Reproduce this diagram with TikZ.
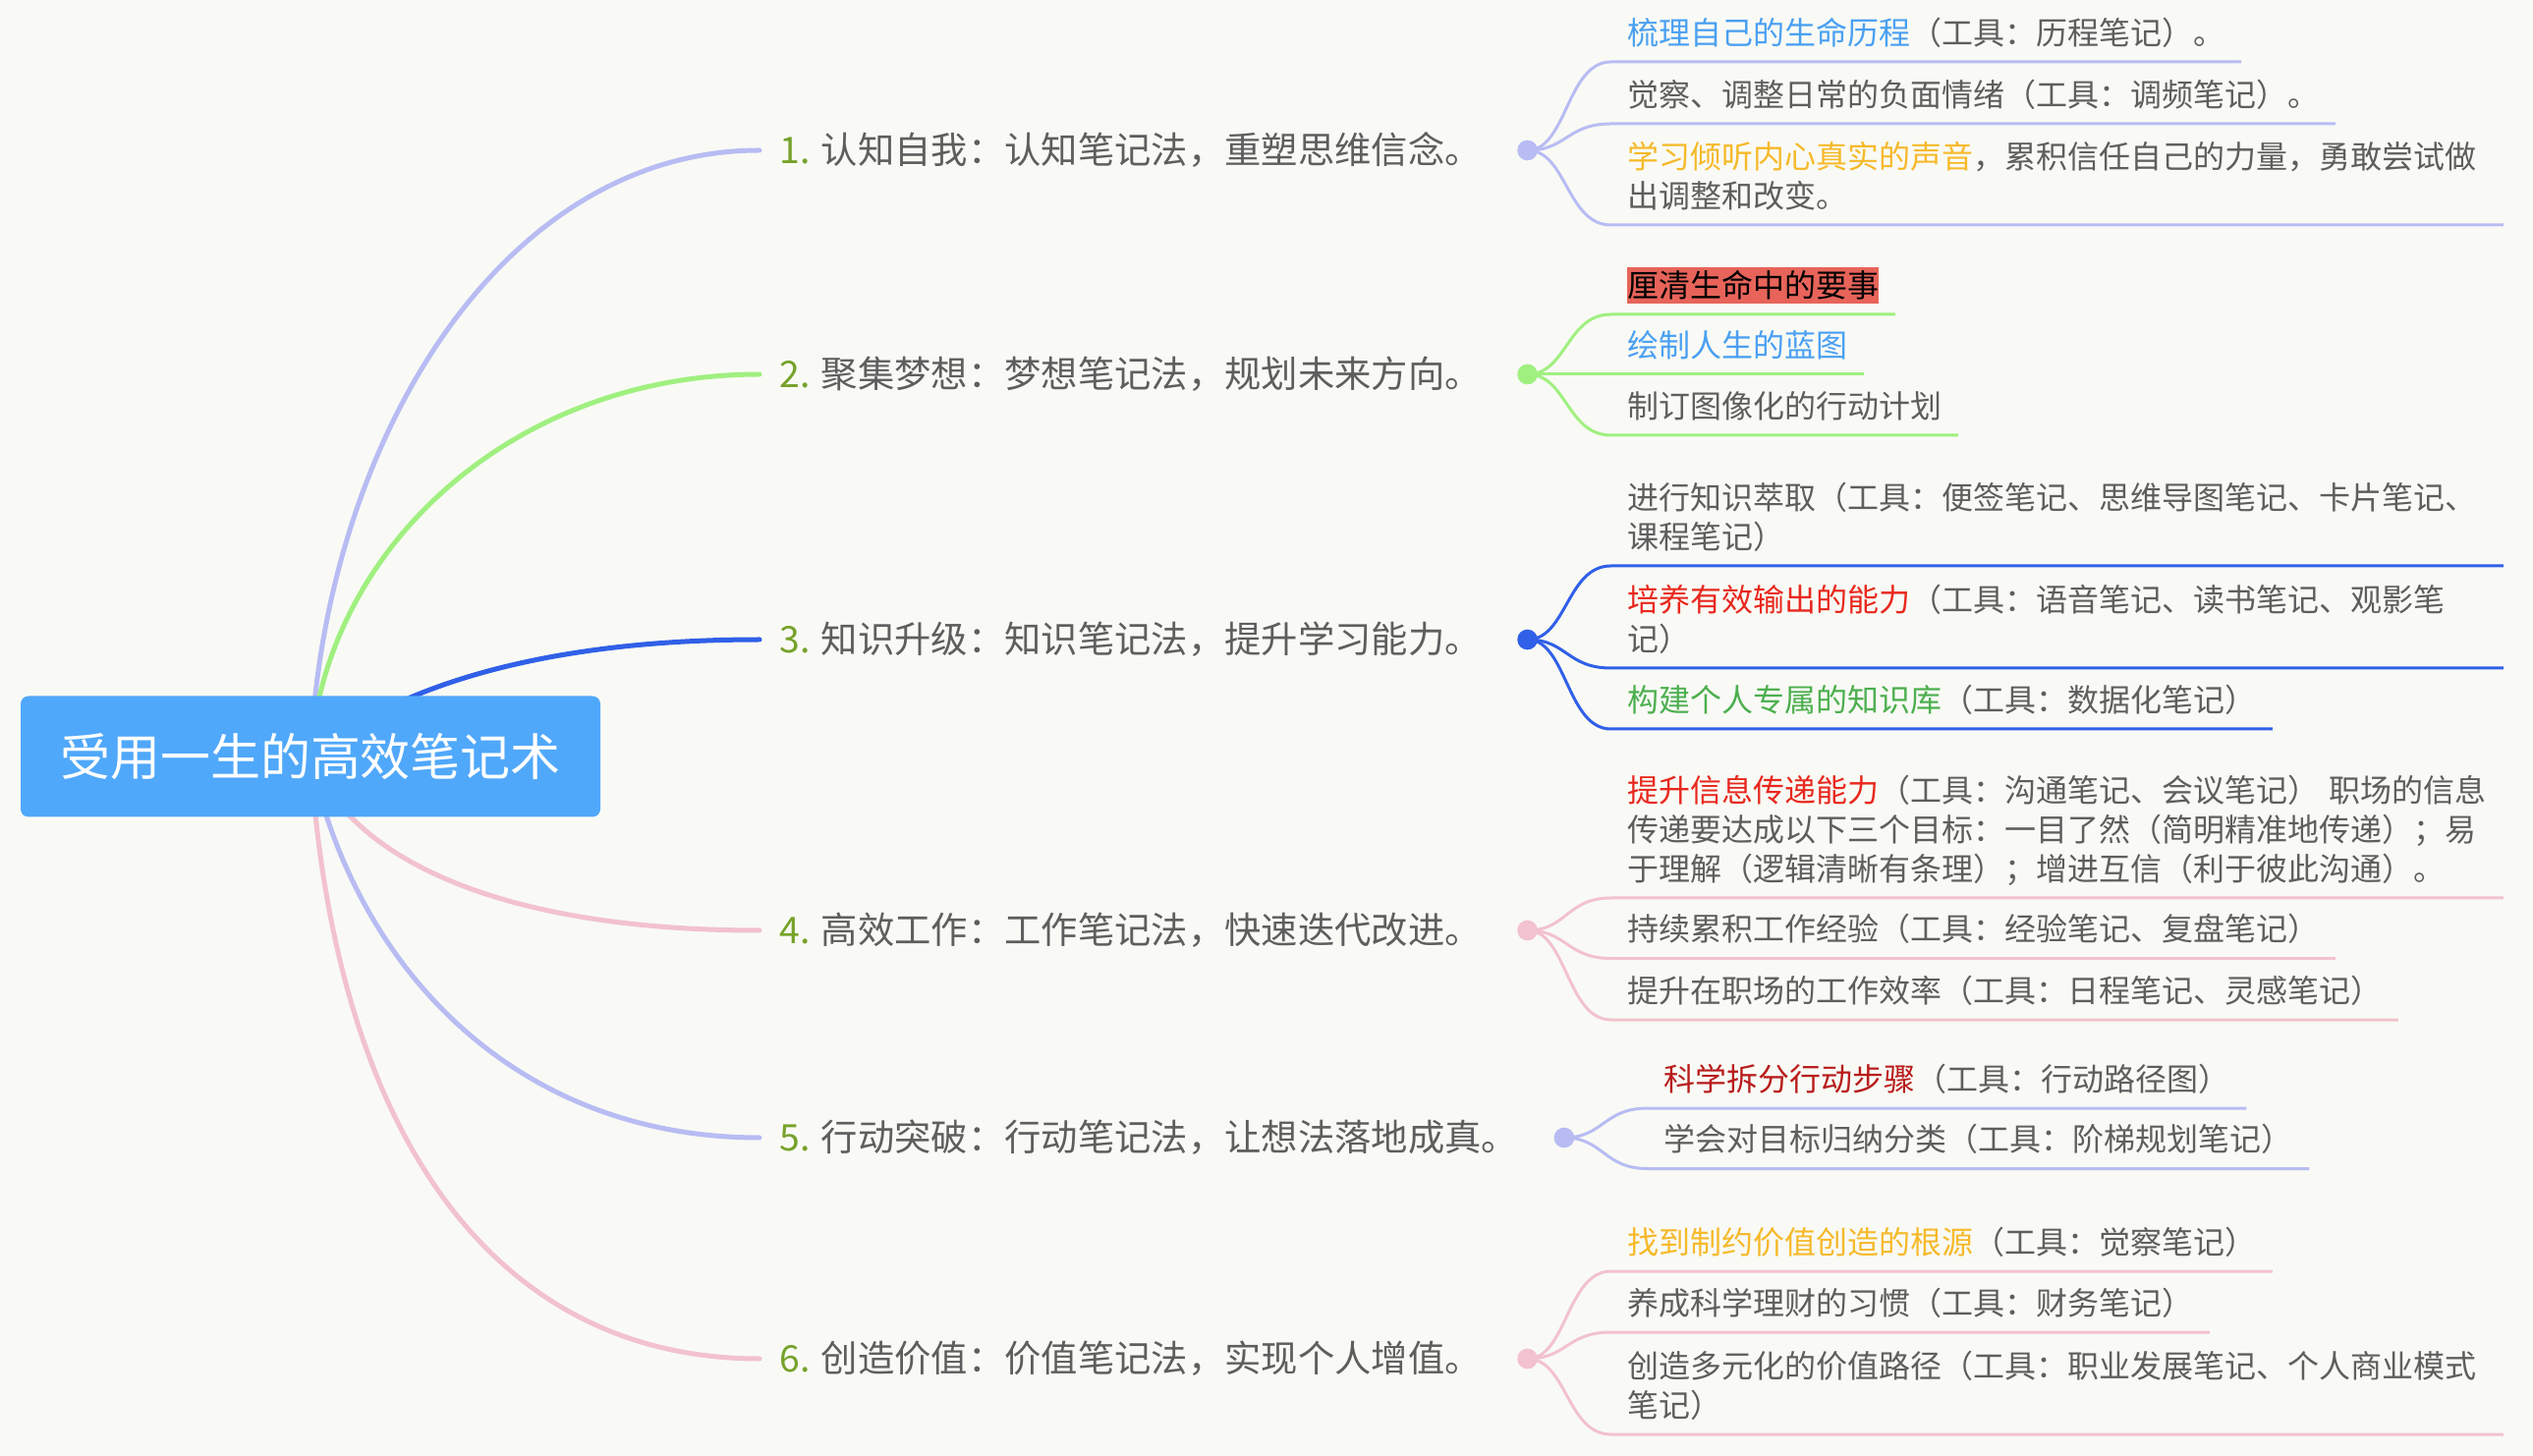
\documentclass[tikz,border=0pt]{standalone}
\usepackage{fontspec}
\setmainfont{Noto Sans CJK SC}
\usetikzlibrary{positioning}

\definecolor{bgpaper}{HTML}{F9FAF5}
\definecolor{rootblue}{HTML}{50A8FA}
\definecolor{lavender}{HTML}{B8BCF3}
\definecolor{mintgreen}{HTML}{A0F080}
\definecolor{deepblue}{HTML}{3060E8}
\definecolor{rosepink}{HTML}{F2C2CE}
\definecolor{olive}{HTML}{76A22A}
\definecolor{textgray}{HTML}{5E5E5E}
\definecolor{skyblue}{HTML}{4AA0F2}
\definecolor{amber}{HTML}{F6B92A}
\definecolor{brightred}{HTML}{E8281E}
\definecolor{leafgreen}{HTML}{4DAF4F}
\definecolor{darkred}{HTML}{B81C1C}
\definecolor{hlred}{HTML}{E8645A}

\newcommand{\hilite}[1]{{\setlength{\fboxsep}{0pt}\colorbox{hlred}{\color{black}\rule[-0.2em]{0pt}{1.15em}#1}}}

\tikzset{
  rootbox/.style={fill=rootblue, rounded corners=2.4pt, minimum width=177pt,
    minimum height=36.9pt, text=white, font=\fontsize{15.3pt}{18pt}\selectfont},
  mainlabel/.style={anchor=west, inner xsep=6pt, inner ysep=0pt, text=textgray,
    font=\fontsize{11.2pt}{14pt}\selectfont},
  knot/.style={circle, inner sep=0pt, minimum size=6.2pt},
  leaf/.style={anchor=south west, inner xsep=4.8pt, inner ysep=4pt, text depth=1.1pt,
    text=textgray, align=left, font=\fontsize{9.6pt}{12pt}\selectfont},
  wideleaf/.style={leaf, text width=262.5pt, text depth=#1},
  trunk/.style={line width=1.5pt, line cap=round},
  twig/.style={line width=0.9pt},
}

\begin{document}
\begin{tikzpicture}[x=0.3pt,y=-0.3pt]
  \fill[bgpaper] (0,0) rectangle (2578,1482);
  \useasboundingbox (0,0) rectangle (2578,1482);
  \coordinate (rootc) at (316,770);

  % main topics
  \node[mainlabel] (l1) at (773,153) {{\color{olive}1.} 认知自我：认知笔记法，重塑思维信念。};
  \node[mainlabel] (l2) at (773,381) {{\color{olive}2.} 聚集梦想：梦想笔记法，规划未来方向。};
  \node[mainlabel] (l3) at (773,651) {{\color{olive}3.} 知识升级：知识笔记法，提升学习能力。};
  \node[mainlabel] (l4) at (773,947) {{\color{olive}4.} 高效工作：工作笔记法，快速迭代改进。};
  \node[mainlabel] (l5) at (773,1158) {{\color{olive}5.} 行动突破：行动笔记法，让想法落地成真。};
  \node[mainlabel] (l6) at (773,1383) {{\color{olive}6.} 创造价值：价值笔记法，实现个人增值。};

  \node[knot, fill=lavender] (d1) at ([xshift=7.8pt]l1.east) {};
  \node[knot, fill=mintgreen] (d2) at ([xshift=7.8pt]l2.east) {};
  \node[knot, fill=deepblue] (d3) at ([xshift=7.8pt]l3.east) {};
  \node[knot, fill=rosepink] (d4) at ([xshift=7.8pt]l4.east) {};
  \node[knot, fill=lavender] (d5) at ([xshift=7.8pt]l5.east) {};
  \node[knot, fill=rosepink] (d6) at ([xshift=7.8pt]l6.east) {};

  % subtopics
  \node[leaf] (a1) at ([shift={(85,-90)}]d1.center) {{\color{skyblue}梳理自己的生命历程}（工具：历程笔记）。};
  \node[leaf] (a2) at ([shift={(85,-27)}]d1.center) {觉察、调整日常的负面情绪（工具：调频笔记）。};
  \node[wideleaf=13.1pt] (a3) at ([shift={(85,76)}]d1.center) {{\color{amber}学习倾听内心真实的声音}，累积信任自己的力量，勇敢尝试做\\出调整和改变。};

  \node[leaf] (b1) at ([shift={(85,-61)}]d2.center) {\hilite{厘清生命中的要事}};
  \node[leaf] (b2) at ([shift={(85,0)}]d2.center) {{\color{skyblue}绘制人生的蓝图}};
  \node[leaf] (b3) at ([shift={(85,62)}]d2.center) {制订图像化的行动计划};

  \node[wideleaf=13.1pt] (c1) at ([shift={(85,-75)}]d3.center) {进行知识萃取（工具：便签笔记、思维导图笔记、卡片笔记、\\课程笔记）};
  \node[wideleaf=13.1pt] (c2) at ([shift={(85,29)}]d3.center) {{\color{brightred}培养有效输出的能力}（工具：语音笔记、读书笔记、观影笔\\记）};
  \node[leaf] (c3) at ([shift={(85,91)}]d3.center) {{\color{leafgreen}构建个人专属的知识库}（工具：数据化笔记）};

  \node[wideleaf=25.1pt] (e1) at ([shift={(85,-33)}]d4.center) {{\color{brightred}提升信息传递能力}（工具：沟通笔记、会议笔记）~职场的信息\\传递要达成以下三个目标：一目了然（简明精准地传递）；易\\于理解（逻辑清晰有条理）；增进互信（利于彼此沟通）。};
  \node[leaf] (e2) at ([shift={(85,28.5)}]d4.center) {持续累积工作经验（工具：经验笔记、复盘笔记）};
  \node[leaf] (e3) at ([shift={(85,91)}]d4.center) {提升在职场的工作效率（工具：日程笔记、灵感笔记）};

  \node[leaf] (f1) at ([shift={(85,-30)}]d5.center) {{\color{darkred}科学拆分行动步骤}（工具：行动路径图）};
  \node[leaf] (f2) at ([shift={(85,31.5)}]d5.center) {学会对目标归纳分类（工具：阶梯规划笔记）};

  \node[leaf] (g1) at ([shift={(85,-89)}]d6.center) {{\color{amber}找到制约价值创造的根源}（工具：觉察笔记）};
  \node[leaf] (g2) at ([shift={(85,-27)}]d6.center) {养成科学理财的习惯（工具：财务笔记）};
  \node[wideleaf=13.1pt] (g3) at ([shift={(85,77)}]d6.center) {创造多元化的价值路径（工具：职业发展笔记、个人商业模式\\笔记）};

  % root to main topics
  \draw[trunk, lavender] (rootc) .. controls (330,450) and (510,153) .. (l1.west);
  \draw[trunk, mintgreen] (rootc) .. controls (330,560) and (520,381) .. (l2.west);
  \draw[trunk, deepblue] (rootc) .. controls (400,700) and (550,651) .. (l3.west);
  \draw[trunk, rosepink] (rootc) .. controls (360,880) and (520,947) .. (l4.west);
  \draw[trunk, lavender] (rootc) .. controls (360,980) and (520,1158) .. (l5.west);
  \draw[trunk, rosepink] (rootc) .. controls (340,1150) and (500,1383) .. (l6.west);

  % main topics to subtopics
  \foreach \k/\c in {a1/lavender,a2/lavender,a3/lavender}
    \draw[twig, \c] (d1.center) .. controls +(40,0) and +(-45,0) .. (\k.south west) -- (\k.south east);
  \foreach \k/\c in {b1/mintgreen,b2/mintgreen,b3/mintgreen}
    \draw[twig, \c] (d2.center) .. controls +(40,0) and +(-45,0) .. (\k.south west) -- (\k.south east);
  \foreach \k/\c in {c1/deepblue,c2/deepblue,c3/deepblue}
    \draw[twig, \c] (d3.center) .. controls +(40,0) and +(-45,0) .. (\k.south west) -- (\k.south east);
  \foreach \k/\c in {e1/rosepink,e2/rosepink,e3/rosepink}
    \draw[twig, \c] (d4.center) .. controls +(40,0) and +(-45,0) .. (\k.south west) -- (\k.south east);
  \foreach \k/\c in {f1/lavender,f2/lavender}
    \draw[twig, \c] (d5.center) .. controls +(40,0) and +(-45,0) .. (\k.south west) -- (\k.south east);
  \foreach \k/\c in {g1/rosepink,g2/rosepink,g3/rosepink}
    \draw[twig, \c] (d6.center) .. controls +(40,0) and +(-45,0) .. (\k.south west) -- (\k.south east);

  \node[rootbox] (root) at (rootc) {受用一生的高效笔记术};
\end{tikzpicture}
\end{document}
